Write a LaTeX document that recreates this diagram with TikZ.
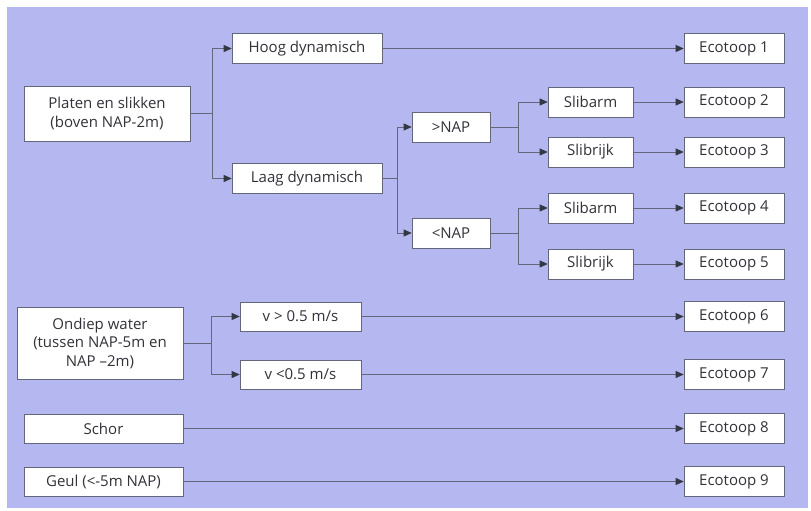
\documentclass[tikz,border=0pt]{standalone}
\usepackage{fontspec}
\setmainfont{Open Sans}
\usetikzlibrary{arrows.meta}
\definecolor{Lav}{RGB}{180,183,240}
\definecolor{Line}{RGB}{100,102,122}
\definecolor{Tip}{RGB}{52,56,68}
\definecolor{Ink}{RGB}{50,50,58}

\begin{document}
\begin{tikzpicture}[x=1pt,y=-1pt,
    box/.style={draw=Line,fill=white,line width=0.6pt,inner sep=0pt,align=center,
      text=Ink,font=\fontsize{15}{18.5}\selectfont},
    wh/.style 2 args={minimum width=#1pt,minimum height=#2pt},
    wire/.style={draw=Line,line width=0.65pt},
    link/.style={wire,-{Triangle[length=8pt,width=7pt,color=Tip]}}]
  \useasboundingbox (0,0) rectangle (811,511);
  \fill[Lav] (7,7) rectangle (808,508);

  % left column
  \node[box,wh={166}{55}] (plat) at (107,113.5) {Platen en slikken\\(boven NAP-2m)};
  \node[box,wh={166}{72}] (ond) at (100,343) {Ondiep water\\(tussen NAP-5m en\\NAP --2m)};
  \node[box,wh={159}{29}] (schor) at (103.5,428.5) {Schor};
  \node[box,wh={159}{29}] (geul) at (103.5,481.5) {Geul (<-5m NAP)};

  % second level
  \node[box,wh={150}{30}] (hoog) at (307,48.5) {Hoog dynamisch};
  \node[box,wh={150}{30}] (laag) at (307,178.5) {Laag dynamisch};
  \node[box,wh={121}{29}] (vhi) at (300.5,316.5) {v > 0.5 m/s};
  \node[box,wh={121}{29}] (vlo) at (300.5,374.5) {v <0.5 m/s};
  \node[box,wh={78}{30}] (gt) at (451,127) {>NAP};
  \node[box,wh={78}{30}] (lt) at (451,233) {<NAP};
  \foreach \n/\t/\y in {sa1/Slibarm/102,sr1/Slibrijk/152,sa2/Slibarm/208,sr2/Slibrijk/264}
    \node[box,wh={85}{30}] (\n) at (590.5,\y) {\t};

  % ecotopen
  \foreach \i/\y in {1/48.5,2/102,3/152,4/208,5/264,6/316.5,7/374.5,8/428.5,9/481.5}
    \node[box,wh={100}{30}] (eco\i) at (734,\y) {Ecotoop \i};

  % splits
  \coordinate (j1) at (212,113.5);
  \coordinate (j2) at (397,178.5);
  \coordinate (j3) at (518,127);
  \coordinate (j4) at (518,233);
  \coordinate (j5) at (211,343);
  \foreach \from/\j/\a/\b in {plat/j1/hoog/laag,laag/j2/gt/lt,gt/j3/sa1/sr1,
      lt/j4/sa2/sr2,ond/j5/vhi/vlo}{
    \draw[wire] (\from.east) -- (\j);
    \draw[link] (\j) |- (\a.west);
    \draw[link] (\j) |- (\b.west);
  }

  % straight runs
  \foreach \a/\b in {hoog/eco1,sa1/eco2,sr1/eco3,sa2/eco4,sr2/eco5,
      vhi/eco6,vlo/eco7,schor/eco8,geul/eco9}
    \draw[link] (\a.east) -- (\b.west);
\end{tikzpicture}
\end{document}
